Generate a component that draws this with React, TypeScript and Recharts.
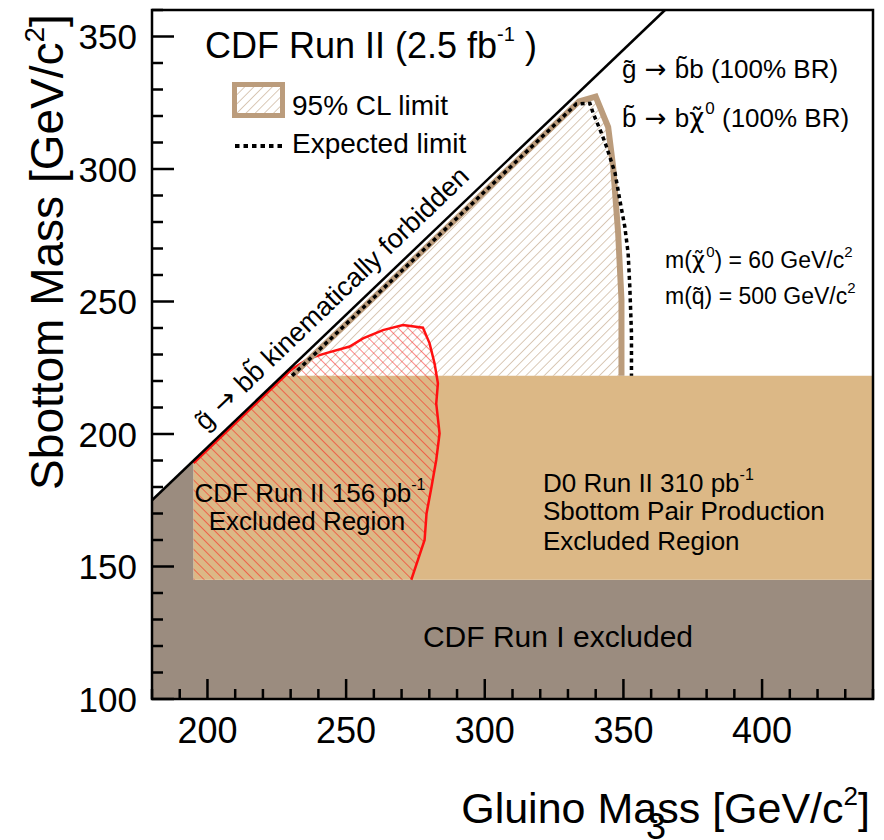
import * as React from 'react'
import { ComposedChart, Scatter, XAxis, YAxis } from 'recharts'

// axis ticks (every 10 GeV, labels on multiples of 50)
const xTicks = [180, 190, 200, 210, 220, 230, 240, 250, 260, 270, 280, 290, 300, 310, 320, 330, 340, 350, 360, 370, 380, 390, 400, 410, 420, 430, 440]
const yTicks = [100, 110, 120, 130, 140, 150, 160, 170, 180, 190, 200, 210, 220, 230, 240, 250, 260, 270, 280, 290, 300, 310, 320, 330, 340, 350, 360]

// excluded regions (gluino mass x, sbottom mass y)
const runIExcluded = [
  { x: 180, y: 100 }, { x: 180, y: 175 }, { x: 195, y: 190 }, { x: 195, y: 145 },
  { x: 440, y: 145 }, { x: 440, y: 100 },
]
const d0Excluded = [
  { x: 195, y: 145 }, { x: 195, y: 190 }, { x: 227, y: 222 }, { x: 440, y: 222 }, { x: 440, y: 145 },
]
const cdf156Region = [
  { x: 195, y: 145 }, { x: 195, y: 189 }, { x: 230.5, y: 224.5 }, { x: 236.8, y: 228.6 },
  { x: 242.8, y: 230.5 }, { x: 251.3, y: 233 }, { x: 256.1, y: 236.1 }, { x: 263.3, y: 239.2 },
  { x: 270.5, y: 241.1 }, { x: 277.7, y: 240.1 }, { x: 280.1, y: 234.2 }, { x: 281.9, y: 226.6 },
  { x: 283.1, y: 219.1 }, { x: 282.5, y: 211.5 }, { x: 283.7, y: 200.2 }, { x: 282.5, y: 190.2 },
  { x: 280.8, y: 180.1 }, { x: 279, y: 170 }, { x: 278.3, y: 160 }, { x: 275.9, y: 152.5 },
  { x: 273.5, y: 145 },
]
const cdf156Boundary = cdf156Region.slice(1)

// limits from this analysis
const observedLimit = [
  { x: 230.5, y: 222 }, { x: 334, y: 325.5 }, { x: 340, y: 327.3 }, { x: 344.5, y: 315.8 },
  { x: 346.3, y: 300.7 }, { x: 348.1, y: 275.7 }, { x: 349.3, y: 250.6 }, { x: 349.3, y: 222 },
]
const expectedLimit = [
  { x: 230.5, y: 222 }, { x: 333, y: 324.5 }, { x: 337.9, y: 324.8 }, { x: 339.1, y: 321 },
  { x: 342.1, y: 313.5 }, { x: 343.9, y: 308.4 }, { x: 347, y: 298.4 }, { x: 348.7, y: 288.3 },
  { x: 350.5, y: 278.2 }, { x: 351.7, y: 268.2 }, { x: 352.3, y: 255.6 }, { x: 352.9, y: 238 },
  { x: 352.9, y: 222 },
]
const kinematicLimit = [{ x: 180, y: 175 }, { x: 365, y: 360 }]
const frame = [{ x: 180, y: 100 }, { x: 180, y: 360 }, { x: 440, y: 360 }, { x: 440, y: 100 }]

const FONT = '"Liberation Sans", Arial, Helvetica, sans-serif'
const SYMBOL_FONT = '"DejaVu Sans", sans-serif'
const BROWN = '#bb9c7c'
const GREY = '#9b8c7f'
const TAN = '#dcb886'
const RED = '#ff1010'

const shape = (fill: string, stroke = 'none', strokeWidth = 0, dash?: string, closed = true) => (p: any) => {
  const pts = p.points || []
  const d = pts.map((pt: any, i: number) => `${i ? 'L' : 'M'}${pt.x},${pt.y}`).join(' ') + (closed ? ' Z' : '')
  return (
    <path d={d} fill={fill} stroke={stroke} strokeWidth={strokeWidth}
      strokeDasharray={dash} strokeLinejoin="miter" strokeLinecap="butt" />
  )
}
const noDot = () => <g />

function XTick(props: any) {
  const { x, y, payload } = props
  const v = payload.value
  const major = v % 50 === 0
  const y0 = y - 18
  return (
    <g>
      <line x1={x} y1={y0} x2={x} y2={y0 - (major ? 20 : 10)} stroke="#000" strokeWidth={2.5} />
      {major && (
        <text x={x} y={y} dy="0.72em" textAnchor="middle" fontSize={36} fontFamily={FONT} fill="#000">{v}</text>
      )}
    </g>
  )
}

function YTick(props: any) {
  const { x, y, payload } = props
  const v = payload.value
  const major = v % 50 === 0
  const x0 = x + 15
  return (
    <g>
      <line x1={x0} y1={y} x2={x0 + (major ? 22 : 11)} y2={y} stroke="#000" strokeWidth={2.5} />
      {major && (
        <text x={x} y={y} dy="0.36em" textAnchor="end" fontSize={35} fontFamily={FONT} fill="#000">{v}</text>
      )}
    </g>
  )
}

const Arrow = () => <tspan fontFamily={SYMBOL_FONT}> → </tspan>
const Chi = () => <tspan fontFamily={SYMBOL_FONT}>χ̃</tspan>

export default function App() {
  return (
    <div style={{ position: 'absolute', left: 0, top: 0, background: '#fff' }}>
      <ComposedChart width={884} height={840} margin={{ top: 10, right: 11, bottom: 0, left: 0 }}>
        <defs>
          <pattern id="brownHatch" width="6.5" height="6.5" patternUnits="userSpaceOnUse" patternTransform="rotate(45)">
            <line x1="0" y1="0" x2="0" y2="6.5" stroke={BROWN} strokeWidth={1.1} />
          </pattern>
          <pattern id="redHatch" width="7" height="7" patternUnits="userSpaceOnUse" patternTransform="rotate(-45)">
            <line x1="0" y1="0" x2="0" y2="7" stroke={RED} strokeWidth={1} />
          </pattern>
        </defs>
        <XAxis type="number" dataKey="x" domain={[180, 440]} ticks={xTicks} interval={0} zIndex={900}
          axisLine={false} tickLine={false} tickSize={0} tickMargin={18} height={141} tick={<XTick />} />
        <YAxis type="number" dataKey="y" domain={[100, 360]} ticks={yTicks} interval={0} zIndex={900}
          axisLine={false} tickLine={false} tickSize={0} tickMargin={15} width={152} tick={<YTick />} />

        <Scatter data={observedLimit} zIndex={-90} isAnimationActive={false} shape={noDot} line={shape('url(#brownHatch)')} />
        <Scatter data={runIExcluded} zIndex={-80} isAnimationActive={false} shape={noDot} line={shape(GREY)} />
        <Scatter data={d0Excluded} zIndex={-70} isAnimationActive={false} shape={noDot} line={shape(TAN)} />
        <Scatter data={cdf156Region} zIndex={-60} isAnimationActive={false} shape={noDot} line={shape('url(#redHatch)')} />
        <Scatter data={cdf156Boundary} zIndex={-50} isAnimationActive={false} shape={noDot} line={shape('none', RED, 2.5, undefined, false)} />
        <Scatter data={observedLimit} zIndex={-40} isAnimationActive={false} shape={noDot} line={shape('none', BROWN, 6, undefined, false)} />
        <Scatter data={expectedLimit} zIndex={-30} isAnimationActive={false} shape={noDot} line={shape('none', '#000', 3.5, '4 3.5', false)} />
        <Scatter data={kinematicLimit} zIndex={-20} isAnimationActive={false} shape={noDot} line={shape('none', '#000', 2.5, undefined, false)} />
        <Scatter data={frame} zIndex={950} isAnimationActive={false} shape={noDot} line={shape('none', '#000', 2.5)} />

        <g fontFamily={FONT} fill="#000">
          <text x={205} y={58} fontSize={36}>
            CDF Run II (2.5 fb<tspan fontSize={20} dy={-17}>-1</tspan><tspan dy={17}> )</tspan>
          </text>
          <rect x={234.5} y={84.5} width={48} height={31} fill="url(#brownHatch)" stroke={BROWN} strokeWidth={5} />
          <text x={292} y={115} fontSize={28}>95% CL limit</text>
          <line x1={235} y1={146} x2={282} y2={146} stroke="#000" strokeWidth={4} strokeDasharray="4.5 4" />
          <text x={292} y={153} fontSize={28}>Expected limit</text>

          <text x={622} y={78} fontSize={26}>g̃<Arrow />b̃b (100% BR)</text>
          <text x={622} y={127} fontSize={26}>
            b̃<Arrow />b<Chi /><tspan fontSize={17} dx={1} dy={-13}>0</tspan><tspan dy={13}> (100% BR)</tspan>
          </text>
          <text x={665} y={268} fontSize={23}>
            m(<Chi /><tspan fontSize={15} dx={1} dy={-11}>0</tspan><tspan dy={11}>) = 60 GeV/c</tspan><tspan fontSize={15} dy={-11}>2</tspan>
          </text>
          <text x={665} y={304} fontSize={23}>
            m(q̃) = 500 GeV/c<tspan fontSize={15} dy={-11}>2</tspan>
          </text>

          <text x={338} y={305} fontSize={27} textAnchor="middle" transform="rotate(-43.7 338 305)">
            g̃<Arrow />bb̃ kinematically forbidden
          </text>

          <text x={310} y={502} fontSize={26} textAnchor="middle">
            CDF Run II 156 pb<tspan fontSize={16} dy={-12}>-1</tspan>
          </text>
          <text x={307} y={530} fontSize={26} textAnchor="middle">Excluded Region</text>

          <text x={543} y={492} fontSize={26}>
            D0 Run II 310 pb<tspan fontSize={16} dy={-12}>-1</tspan>
          </text>
          <text x={543} y={520} fontSize={26}>Sbottom Pair Production</text>
          <text x={543} y={550} fontSize={26}>Excluded Region</text>

          <text x={558} y={647} fontSize={30} textAnchor="middle">CDF Run I excluded</text>

          <text x={870} y={823} fontSize={43} textAnchor="end">
            Gluino Mass [GeV/c<tspan fontSize={26} dy={-18}>2</tspan><tspan dy={18}>]</tspan>
          </text>
          <text x={656} y={839} fontSize={36} textAnchor="middle">3</text>
          <text x={63} y={252} fontSize={46} textAnchor="middle" transform="rotate(-90 63 252)">
            Sbottom Mass [GeV/c<tspan fontSize={28} dy={-19}>2</tspan><tspan dy={19}>]</tspan>
          </text>
        </g>
      </ComposedChart>
    </div>
  )
}
